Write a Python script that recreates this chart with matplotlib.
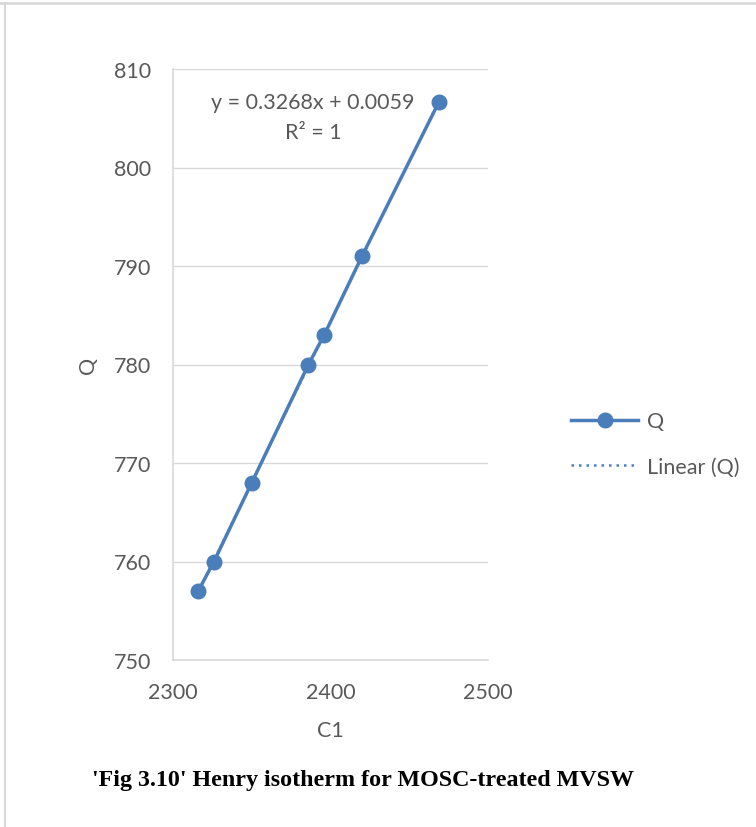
import matplotlib
matplotlib.use("Agg")
import matplotlib.pyplot as plt
import numpy as np
from matplotlib.lines import Line2D

C1 = [2316, 2326, 2350, 2386, 2396, 2420, 2469]
Q = [757, 760, 768, 780, 783, 791, 806.7]
x_ticks = [2300, 2400, 2500]
y_ticks = [750, 760, 770, 780, 790, 800, 810]
equation = "y = 0.3268x + 0.0059"
r2 = "R² = 1"
caption = "'Fig 3.10' Henry isotherm for MOSC-treated MVSW"

blue = "#4A7EBB"
gray_txt = "#595959"
grid_c = "#D9D9D9"

plt.rcParams['font.family'] = ['Lato', 'DejaVu Sans']

fig = plt.figure(figsize=(7.56, 8.28), dpi=100)
ax = fig.add_axes([173/756, 1-661/828, (488-173)/756, (661-70)/828])

# trendline
coef = np.polyfit(C1, Q, 1)
xs = np.array([min(C1), max(C1)])
ax.plot(xs, np.polyval(coef, xs), linestyle=(0, (1, 2)), color=blue, lw=1.5, zorder=2)
ax.plot(C1, Q, color=blue, lw=2.5, marker='o', markersize=10.5, zorder=3)

ax.set_xlim(2300, 2500)
ax.set_ylim(750, 810)
ax.set_xticks(x_ticks)
ax.set_yticks(y_ticks)
ax.grid(axis='y', color=grid_c, lw=1)
ax.set_axisbelow(True)
for s in ['top', 'right']:
    ax.spines[s].set_visible(False)
for s in ['left', 'bottom']:
    ax.spines[s].set_color(grid_c)
    ax.spines[s].set_linewidth(1.2)
ax.tick_params(length=0, labelsize=15.5, labelcolor=gray_txt)
ax.tick_params(axis='y', pad=16)
ax.tick_params(axis='x', pad=16)
ax.set_xlabel("C1", fontsize=15.5, color=gray_txt, labelpad=13)
ax.set_ylabel("Q", fontsize=15.5, color=gray_txt, labelpad=11)

ax.text(313/756, 1-103/828, equation, transform=fig.transFigure, ha='center', va='center',
        fontsize=15.5, color=gray_txt)
ax.text(313/756, 1-133/828, r2, transform=fig.transFigure, ha='center', va='center',
        fontsize=15.5, color=gray_txt)

handles = [Line2D([], [], color=blue, lw=2.5, marker='o', markersize=10.5),
           Line2D([], [], color=blue, lw=1.8, linestyle=(0, (1, 2)))]
fig.legend(handles, ["Q", "Linear (Q)"], loc='center left', bbox_to_anchor=(552/756, 1-445/828),
           frameon=False, fontsize=15.5, labelcolor=gray_txt, handlelength=3.1,
           handletextpad=0.4, labelspacing=1.17)

fig.text(363/756, 1-781/828, caption, ha='center', va='center', fontsize=17.3,
         fontweight='bold', family=['Liberation Serif'])

# page borders
fig.add_artist(Line2D([0, 1], [1-4/828, 1-4/828], transform=fig.transFigure, color='#D9D9D9', lw=2))
fig.add_artist(Line2D([5/756, 5/756], [0, 1-4/828], transform=fig.transFigure, color='#D9D9D9', lw=1.5))

fig.savefig("out.png", dpi=100)
